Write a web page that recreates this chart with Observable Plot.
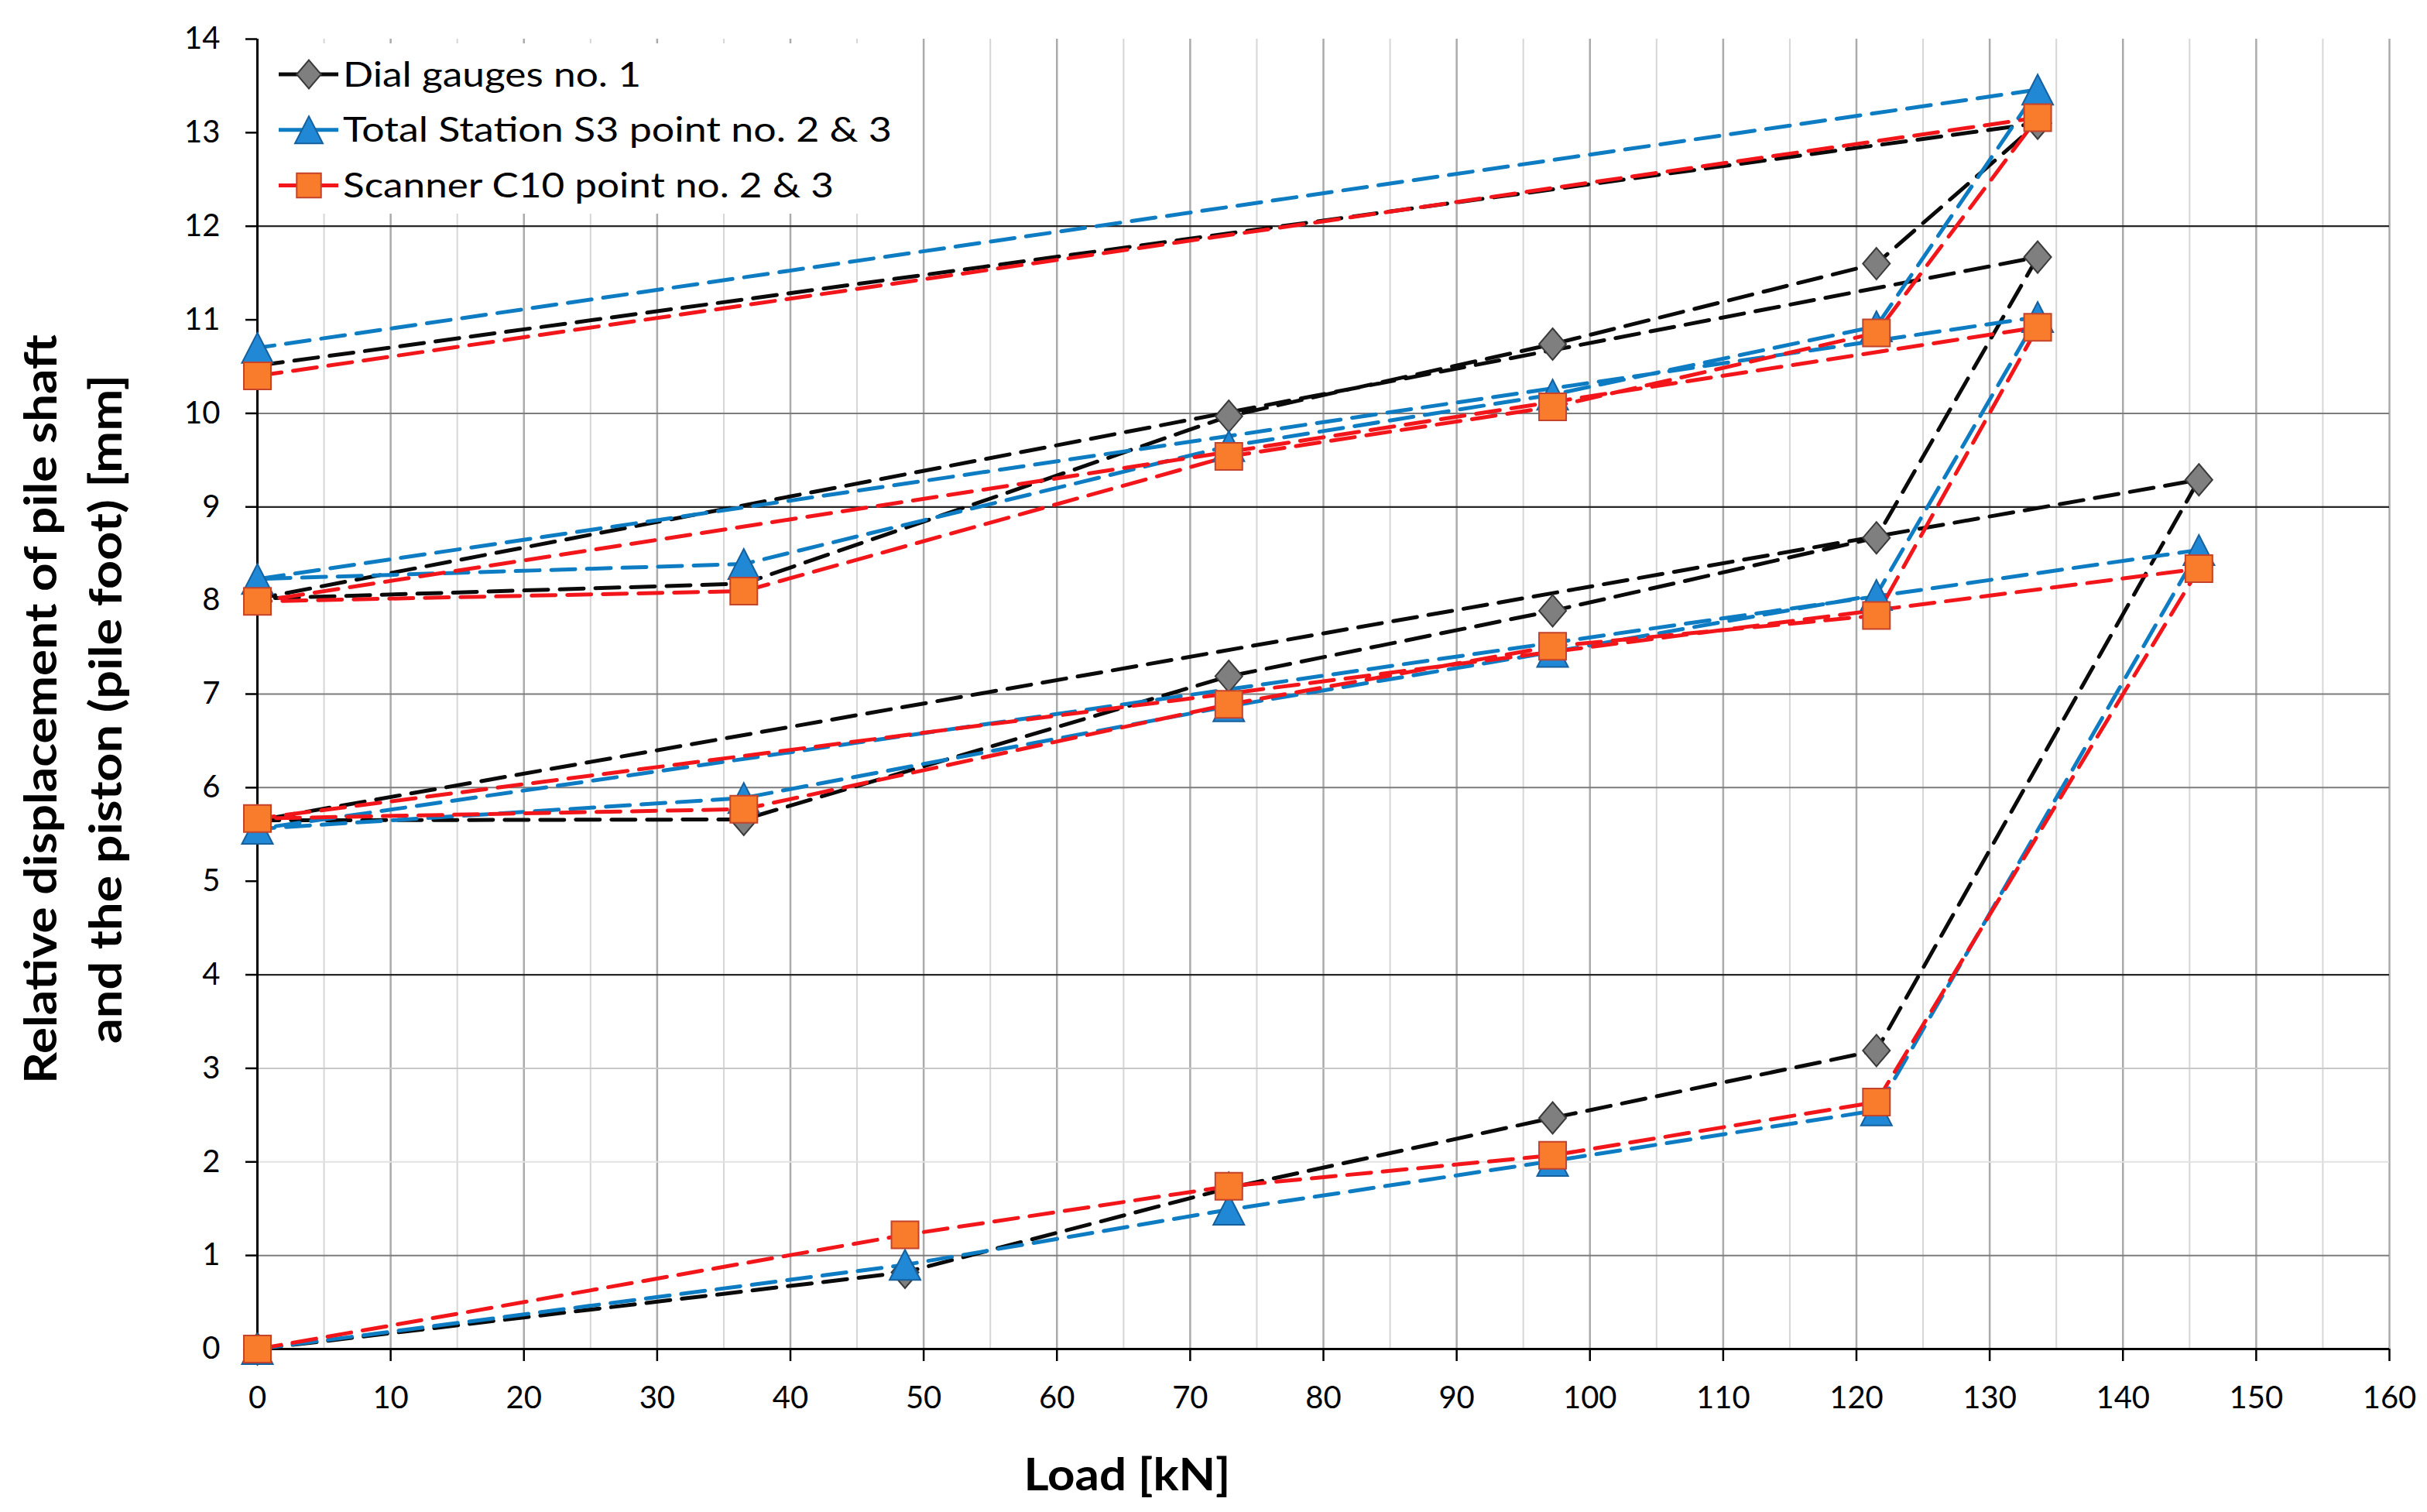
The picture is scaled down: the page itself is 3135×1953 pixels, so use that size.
<!DOCTYPE html>
<html>
<head>
<meta charset="utf-8">
<script src="https://cdn.jsdelivr.net/npm/d3@7"></script>
<script src="https://cdn.jsdelivr.net/npm/@observablehq/plot@0.6"></script>
<style>
  html, body { margin: 0; padding: 0; background: #fff; overflow: hidden; }
</style>
</head>
<body>
<div id="chart"></div>
<script>
// ---- data ----
const loadSteps = [0, 48.6, 72.9, 97.2, 121.5, 145.7, 0, 36.5, 72.9, 97.2, 121.5, 133.6, 0, 36.5, 72.9, 97.2, 121.5, 133.6, 0];
const dialGauges = [0, 0.82, 1.72, 2.47, 3.19, 9.29, 5.65, 5.66, 7.19, 7.89, 8.67, 11.67, 8.02, 8.18, 9.97, 10.74, 11.60, 13.10, 10.51];
const totalStation = [0, 0.90, 1.49, 2.01, 2.55, 8.54, 5.56, 5.89, 6.87, 7.45, 8.06, 11.03, 8.23, 8.39, 9.65, 10.20, 10.93, 13.46, 10.70];
const scanner = [0, 1.22, 1.74, 2.07, 2.64, 8.34, 5.67, 5.77, 6.89, 7.51, 7.84, 10.92, 7.99, 8.10, 9.54, 10.07, 10.86, 13.16, 10.40];
const seriesNames = ["Dial gauges no. 1", "Total Station S3 point no. 2 & 3", "Scanner C10 point no. 2 & 3"];
const xTicks = d3.range(0, 161, 10);
const xMinorGrid = d3.range(5, 160, 10);
const yTicks = d3.range(0, 15, 1);
const yGridDark = [12, 9, 4];
const yGridMid = [10, 7, 6, 1];
const yGridLight = [3];
const yGridLighter = [2];

// ---- marker shapes ----
const diamondSym = { draw(ctx, size) { const r = Math.sqrt(size / Math.PI); const w = 0.875 * r, h = 1.025 * r;
  ctx.moveTo(0, -h); ctx.lineTo(w, 0); ctx.lineTo(0, h); ctx.lineTo(-w, 0); ctx.closePath(); } };
const triangleSym = { draw(ctx, size) { const r = Math.sqrt(size / Math.PI); const w = 1.0 * r, h = 0.975 * r;
  ctx.moveTo(0, -h); ctx.lineTo(w, h); ctx.lineTo(-w, h); ctx.closePath(); } };
const squareSym = { draw(ctx, size) { const r = Math.sqrt(size / Math.PI); const s = 0.875 * r;
  ctx.moveTo(-s, -s); ctx.lineTo(s, -s); ctx.lineTo(s, s); ctx.lineTo(-s, s); ctx.closePath(); } };

const styles = [
  { line: "#0a0a0a", fill: "#7f7f7f", edge: "#3a3a3a", sym: diamondSym },
  { line: "#0e7cc2", fill: "#2088d4", edge: "#16609e", sym: triangleSym },
  { line: "#f2161b", fill: "#f97b2c", edge: "#c4432b", sym: squareSym }
];

const seriesValues = [dialGauges, totalStation, scanner];
const rows = seriesValues.map((vals, s) => vals.map((v, i) => ({ series: seriesNames[s], load: loadSteps[i], disp: v })));

const dataMarks = [];
rows.forEach((r, s) => {
  dataMarks.push(Plot.line(r, { x: "load", y: "disp", stroke: styles[s].line, strokeWidth: 5, strokeDasharray: "31,15" }));
});
rows.forEach((r, s) => {
  dataMarks.push(Plot.dot(r, { x: "load", y: "disp", symbol: styles[s].sym, r: 20, fill: styles[s].fill, stroke: styles[s].edge, strokeWidth: 2 }));
});

const chart = Plot.plot({
  width: 3135,
  height: 1953,
  marginLeft: 332,
  marginRight: 49,
  marginTop: 50,
  marginBottom: 211,
  style: { fontFamily: "Lato, 'Open Sans', sans-serif", background: "#fff", color: "#000" },
  x: { domain: [0, 160], axis: null },
  y: { domain: [0, 14], axis: null },
  marks: [
    Plot.ruleX(xMinorGrid, { stroke: "#d6d6d6", strokeWidth: 2 }),
    Plot.ruleX(xTicks.filter(d => d > 0), { stroke: "#ababab", strokeWidth: 2.5 }),
    Plot.ruleY(yGridLighter, { stroke: "#e2e2e2", strokeWidth: 2 }),
    Plot.ruleY(yGridLight, { stroke: "#c8c8c8", strokeWidth: 2 }),
    Plot.ruleY(yGridMid, { stroke: "#7c7c7c", strokeWidth: 2 }),
    Plot.ruleY(yGridDark, { stroke: "#262626", strokeWidth: 2.2 }),
    Plot.axisY({ ticks: yTicks, tickSize: 15, tickPadding: 33, fontSize: 40, strokeWidth: 2.5, label: null, tickFormat: d => d }),
    Plot.axisX({ ticks: xTicks, tickSize: 16, tickPadding: 32, fontSize: 40, strokeWidth: 2.5, label: null, tickFormat: d => d }),
    Plot.ruleX([0], { stroke: "#000", strokeWidth: 3 }),
    Plot.ruleY([0], { stroke: "#000", strokeWidth: 3 }),
    ...dataMarks
  ]
});
document.getElementById("chart").appendChild(chart);

// ---- legend and axis titles ----
const svg = d3.select(chart);
const lg = svg.append("g").attr("text-anchor", "start");
lg.append("rect").attr("x", 335).attr("y", 56).attr("width", 825).attr("height", 220)
  .attr("fill", "#ffffff").attr("style", "fill:#ffffff;stroke:none");
const legendWidths = [385, 709, 634];
seriesNames.forEach((name, i) => {
  const cy = 96 + 71.7 * i;
  lg.append("line").attr("x1", 360).attr("x2", 437).attr("y1", cy).attr("y2", cy)
    .attr("stroke", styles[i].line).attr("stroke-width", 5);
  lg.append("path").attr("transform", `translate(399,${cy})`)
    .attr("d", d3.symbol().type(styles[i].sym).size(Math.PI * 18 * 18)())
    .attr("fill", styles[i].fill).attr("stroke", styles[i].edge).attr("stroke-width", 2);
  lg.append("text").attr("x", 443).attr("y", cy + 15.5).attr("text-anchor", "start")
    .attr("font-family", "Lato, 'Open Sans', sans-serif").attr("font-size", 44).attr("fill", "#000")
    .attr("textLength", legendWidths[i]).attr("lengthAdjust", "spacingAndGlyphs")
    .text(name);
});
const titles = svg.append("g").attr("font-family", "Lato, 'Open Sans', sans-serif").attr("font-weight", "bold").attr("fill", "#000");
titles.append("text").attr("transform", "translate(73,916) rotate(-90)").attr("text-anchor", "middle")
  .attr("font-size", 58).attr("textLength", 968).attr("lengthAdjust", "spacingAndGlyphs")
  .text("Relative displacement of pile shaft");
titles.append("text").attr("transform", "translate(157,916) rotate(-90)").attr("text-anchor", "middle")
  .attr("font-size", 58).attr("textLength", 864).attr("lengthAdjust", "spacingAndGlyphs")
  .text("and the piston (pile foot) [mm]");
titles.append("text").attr("x", 1456).attr("y", 1925).attr("text-anchor", "middle")
  .attr("font-size", 58).attr("textLength", 267).attr("lengthAdjust", "spacingAndGlyphs")
  .text("Load [kN]");
</script>
</body>
</html>
